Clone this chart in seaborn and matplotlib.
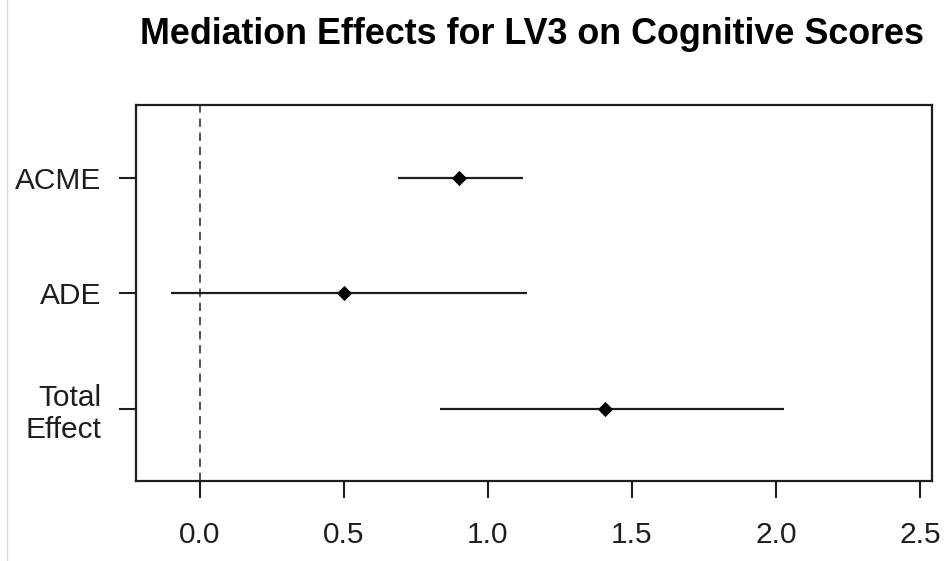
import matplotlib
matplotlib.use("Agg")
import matplotlib.pyplot as plt
import seaborn as sns
import pandas as pd
from matplotlib.lines import Line2D

effects = ["ACME", "ADE", "Total\nEffect"]
estimates = [0.901, 0.501, 1.407]
ci_lower = [0.689, -0.100, 0.834]
ci_upper = [1.123, 1.136, 2.028]
x_ticks = [0.0, 0.5, 1.0, 1.5, 2.0, 2.5]
title = "Mediation Effects for LV3 on Cognitive Scores"

sns.set_style("white")
plt.rcParams["font.family"] = ["Liberation Sans", "DejaVu Sans"]

df = pd.DataFrame({"effect": effects, "est": estimates,
                   "lo": ci_lower, "hi": ci_upper})
df["pos"] = range(len(df))

fig = plt.figure(figsize=(9.47, 5.61), dpi=100)
ax = fig.add_axes([136/947, 1-481/561, (932-136)/947, (481-105)/561])

ax.hlines(df["pos"], df["lo"], df["hi"], color="#1e1e1e", lw=1.6, zorder=2)
sns.scatterplot(data=df, x="est", y="pos", marker="D", s=60, color="black",
                edgecolor="black", linewidth=0, ax=ax, zorder=3, legend=False)
ax.axvline(0, color="#333333", lw=1.2, ls=(0, (5, 3.5)), zorder=1)

ax.set_xlim(-0.2203, 2.541)
ax.set_ylim(2.622, -0.628)
ax.set_xticks(x_ticks)
ax.set_xticklabels([f"{v:.1f}" for v in x_ticks])
ax.set_yticks(df["pos"])
ax.set_yticklabels(df["effect"])
ax.set_xlabel("")
ax.set_ylabel("")

for s in ax.spines.values():
    s.set_visible(True)
    s.set_color("#1e1e1e")
    s.set_linewidth(1.6)

ax.tick_params(axis="both", which="major", length=12, width=1.5,
               color="#1e1e1e", labelsize=21.5, labelcolor="#1e1e1e",
               direction="out", left=True, bottom=True)
ax.tick_params(axis="y", pad=13)
ax.tick_params(axis="x", pad=17)

fig.text(532/947, 1-34/561, title, ha="center", va="center",
         fontsize=25.8, fontweight="bold", color="black")

fig.add_artist(Line2D([7/947, 7/947], [0, 1], transform=fig.transFigure,
                      color="#d8d8d8", lw=1))

fig.savefig("out.png", dpi=100)
